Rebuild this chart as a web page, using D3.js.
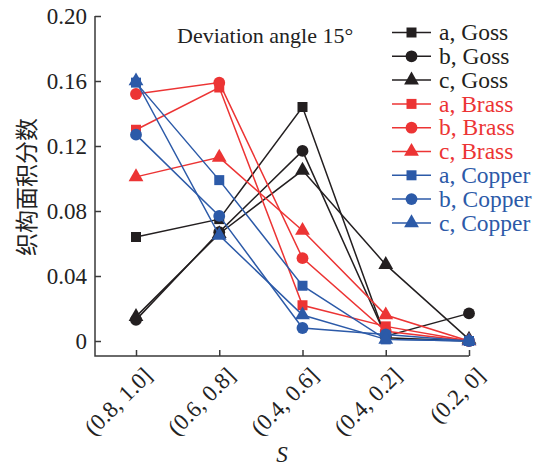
<!DOCTYPE html>
<html>
<head>
<meta charset="utf-8">
<script src="https://cdn.jsdelivr.net/npm/d3@7"></script>
<style>
  body { margin: 0; background: #fff; }
  text { font-family: "Liberation Serif", "Times New Roman", serif; }
</style>
</head>
<body>
<div id="chart"></div>
<script>
////////////////////////////////////////////////////////////////////////
// data

let categories = ["(0.8, 1.0]", "(0.6, 0.8]", "(0.4, 0.6]", "(0.4, 0.2]", "(0.2, 0]"];
let yTicks = [0, 0.04, 0.08, 0.12, 0.16, 0.20];

let aGoss   = [0.064, 0.075, 0.144, 0.002, 0.000];
let bGoss   = [0.013, 0.067, 0.117, 0.003, 0.017];
let cGoss   = [0.015, 0.066, 0.105, 0.047, 0.001];
let aBrass  = [0.130, 0.156, 0.022, 0.009, 0.000];
let bBrass  = [0.152, 0.159, 0.051, 0.006, 0.000];
let cBrass  = [0.101, 0.113, 0.068, 0.016, 0.000];
let aCopper = [0.159, 0.099, 0.034, 0.001, 0.000];
let bCopper = [0.127, 0.077, 0.008, 0.004, 0.000];
let cCopper = [0.160, 0.065, 0.016, 0.001, 0.000];

let seriesNames = ["a, Goss", "b, Goss", "c, Goss",
                   "a, Brass", "b, Brass", "c, Brass",
                   "a, Copper", "b, Copper", "c, Copper"];
let seriesValues = [aGoss, bGoss, cGoss, aBrass, bBrass, cBrass, aCopper, bCopper, cCopper];

// colour per texture, marker per sample
let black = "#231f20", red = "#ec3434", blue = "#2c5aa8";
let seriesColors = [black, black, black, red, red, red, blue, blue, blue];
let shapes = [d3.symbolSquare, d3.symbolCircle, d3.symbolTriangle];
let shapeSizes = [100, 110, 95];

////////////////////////////////////////////////////////////////////////
// svg + scales

let width = 540, height = 466;
let svg = d3.select("#chart").append("svg")
  .attr("width", width).attr("height", height);

let xScale = d3.scalePoint().domain(categories).range([136, 469]);
let yScale = d3.scaleLinear().domain([0, 0.20]).range([341, 16]);
let axisLeftX = 95, axisBottomY = 356;
let axisColor = "#3a3a3a";

// y axis (ticks point inward)
let yAxis = d3.axisLeft(yScale)
  .tickValues(yTicks)
  .tickSizeInner(-6).tickSizeOuter(0).tickPadding(8)
  .tickFormat(function(d) { return d === 0 ? "0" : d3.format(".2f")(d); });

let gy = svg.append("g")
  .attr("transform", "translate(" + axisLeftX + ",0)")
  .call(yAxis);
gy.select(".domain").remove();
gy.selectAll("line").attr("stroke", axisColor).attr("stroke-width", 1.5);
gy.selectAll("text")
  .attr("font-family", "Liberation Serif, serif")
  .attr("font-size", 23).attr("fill", "#222")
  .attr("dy", "0.34em");

// x axis
let xAxis = d3.axisBottom(xScale).tickSizeInner(-6).tickSizeOuter(0);
let gx = svg.append("g")
  .attr("transform", "translate(0," + axisBottomY + ")")
  .call(xAxis);
gx.select(".domain").remove();
gx.selectAll("line").attr("stroke", axisColor).attr("stroke-width", 1.5);
gx.selectAll("text")
  .attr("font-family", "Liberation Serif, serif")
  .attr("font-size", 23).attr("fill", "#222")
  .attr("y", null).attr("dy", null)
  .attr("text-anchor", "end")
  .attr("transform", "translate(17,21) rotate(-45)");

// axis lines
svg.append("path")
  .attr("d", "M" + axisLeftX + "," + yScale(0.20) + "V" + axisBottomY + "H" + xScale(categories[4]))
  .attr("fill", "none").attr("stroke", axisColor).attr("stroke-width", 1.5);

// axis titles
svg.append("text")
  .attr("transform", "translate(35,187) rotate(-90)")
  .attr("text-anchor", "middle")
  .attr("font-size", 23).attr("fill", "#222")
  .style("font-family", "'Noto Sans CJK SC', sans-serif")
  .text("织构面积分数");

svg.append("text")
  .attr("x", 282).attr("y", 462)
  .attr("text-anchor", "middle")
  .attr("font-size", 23).attr("font-style", "italic").attr("fill", "#222")
  .text("S");

svg.append("text")
  .attr("x", 177).attr("y", 43)
  .attr("font-size", 22).attr("fill", "#222")
  .text("Deviation angle 15°");

////////////////////////////////////////////////////////////////////////
// lines and markers

let line = d3.line()
  .x(function(d, i) { return xScale(categories[i]); })
  .y(function(d) { return yScale(d); });

seriesValues.forEach(function(vals, s) {
  let g = svg.append("g").attr("class", "series");
  g.append("path")
    .attr("d", line(vals))
    .attr("fill", "none")
    .attr("stroke", seriesColors[s])
    .attr("stroke-width", 1.5);
  g.selectAll("path.pt")
    .data(vals).enter()
    .append("path")
    .attr("class", "pt")
    .attr("d", d3.symbol().type(shapes[s % 3]).size(shapeSizes[s % 3]))
    .attr("transform", function(d, i) {
      return "translate(" + xScale(categories[i]) + "," + yScale(d) + ")";
    })
    .attr("fill", seriesColors[s]);
});

////////////////////////////////////////////////////////////////////////
// legend

let legend = svg.append("g").attr("transform", "translate(392,32.5)");
seriesNames.forEach(function(name, s) {
  let row = legend.append("g").attr("transform", "translate(0," + (s * 23.8) + ")");
  row.append("line")
    .attr("x1", 0).attr("x2", 39)
    .attr("stroke", seriesColors[s]).attr("stroke-width", 1.5);
  row.append("path")
    .attr("d", d3.symbol().type(shapes[s % 3]).size(shapeSizes[s % 3]))
    .attr("transform", "translate(19.5,0)")
    .attr("fill", seriesColors[s]);
  row.append("text")
    .attr("x", 47).attr("dy", "0.33em")
    .attr("font-size", 23.5).attr("fill", seriesColors[s])
    .text(name);
});
</script>
</body>
</html>
